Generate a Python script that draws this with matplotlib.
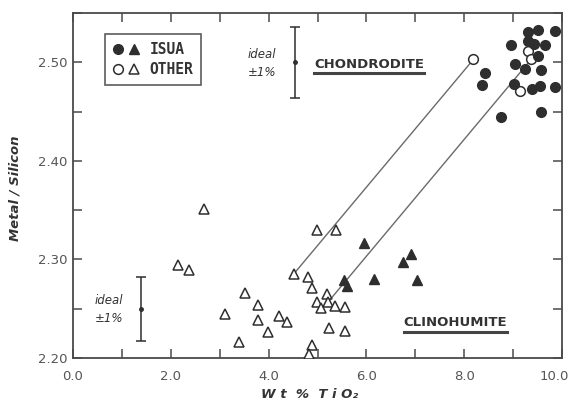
import numpy as np
import matplotlib
matplotlib.use("Agg")
import matplotlib.pyplot as plt
import matplotlib.transforms as mtransforms
from matplotlib.legend_handler import HandlerTuple
from matplotlib.lines import Line2D

# ---- data -------------------------------------------------------------
isua_circ_x = [9.30, 9.51, 9.85, 8.95, 9.31, 9.43, 9.66, 9.50, 9.04, 9.25,
               9.58, 8.43, 8.37, 9.02, 9.39, 9.54, 9.85, 8.76, 9.58]
isua_circ_y = [2.531, 2.533, 2.532, 2.518, 2.522, 2.519, 2.518, 2.506, 2.498, 2.493,
               2.492, 2.489, 2.477, 2.478, 2.473, 2.476, 2.475, 2.445, 2.450]

other_circ_x = [8.19, 9.30, 9.37, 9.14]
other_circ_y = [2.503, 2.511, 2.503, 2.471]

isua_tri_x = [5.95, 5.54, 5.60, 6.16, 6.74, 6.92, 7.03]
isua_tri_y = [2.317, 2.279, 2.273, 2.280, 2.297, 2.306, 2.279]

other_tri_x = [2.68, 2.14, 2.37, 3.52, 3.11, 3.79, 3.79, 3.99, 3.40, 4.22,
               4.37, 4.51, 4.98, 5.38, 4.81, 4.88, 5.19, 4.98, 5.07, 5.22,
               5.36, 5.56, 5.24, 5.56, 4.88, 4.83]
other_tri_y = [2.351, 2.294, 2.289, 2.266, 2.245, 2.254, 2.239, 2.226, 2.216, 2.243,
               2.237, 2.285, 2.330, 2.330, 2.282, 2.271, 2.265, 2.257, 2.251, 2.257,
               2.253, 2.252, 2.230, 2.227, 2.213, 2.204]

# tie lines joining clinohumite and chondrodite of the same sample
tie_x = [[4.51, 8.19], [5.22, 9.37]]
tie_y = [[2.285, 2.503], [2.257, 2.503]]

# ideal ratios with their +/- bars
ideal_x = [4.54, 1.40]
ideal_y = [2.50, 2.25]
ideal_err = [0.036, 0.0325]

x_ticks = np.arange(0, 11, 1)
x_labels = ["0.0", "", "2.0", "", "4.0", "", "6.0", "", "8.0", "", "10.0"]
y_ticks = [2.20, 2.25, 2.30, 2.35, 2.40, 2.45, 2.50, 2.55]
y_labels = ["2.20", "", "2.30", "", "2.40", "", "2.50", ""]

# ---- figure -----------------------------------------------------------
ink = "#2e2e2e"
axis_col = "#4a4a4a"

fig = plt.figure(figsize=(5.72, 4.09), dpi=100)
ax = fig.add_axes([73 / 572, 51 / 409, 489 / 572, 345 / 409])
ax.set_xlim(0, 10)
ax.set_ylim(2.20, 2.55)

for s in ax.spines.values():
    s.set_color(axis_col)
    s.set_linewidth(1.3)

ax.set_xticks(x_ticks)
ax.set_xticklabels(x_labels)
ax.set_yticks(y_ticks)
ax.set_yticklabels(y_labels)
ax.tick_params(direction="in", length=6.5, width=1.1, color=axis_col,
               top=True, right=True, labelsize=9.5, labelcolor="#555555")
ax.tick_params(axis="x", pad=9)
ax.tick_params(axis="y", pad=4)

# keep the last x label inside the canvas
last = ax.get_xticklabels()[-1]
last.set_transform(last.get_transform() +
                   mtransforms.ScaledTranslation(-0.08, 0, fig.dpi_scale_trans))

# tie lines
for xs, ys in zip(tie_x, tie_y):
    ax.plot(xs, ys, color="#6a6a6a", lw=1.0, zorder=2)

# points
h_oc, = ax.plot(other_circ_x, other_circ_y, "o", ms=7, mfc="white", mec=ink,
                mew=1.1, ls="none", zorder=3)
h_ot, = ax.plot(other_tri_x, other_tri_y, "^", ms=6.5, mfc="white", mec=ink,
                mew=1.1, ls="none", zorder=3)
h_ic, = ax.plot(isua_circ_x, isua_circ_y, "o", ms=7, mfc=ink, mec=ink,
                ls="none", zorder=4)
h_it, = ax.plot(isua_tri_x, isua_tri_y, "^", ms=7, mfc=ink, mec=ink,
                ls="none", zorder=4)

# ideal composition bars
ax.errorbar(ideal_x, ideal_y, yerr=ideal_err, fmt="o", ms=2.5, color=ink,
            ecolor=ink, elinewidth=1.1, capsize=3.5, capthick=1.1, zorder=3)
for xi, yi in zip(ideal_x, ideal_y):
    ax.text(xi - 0.67, yi + 0.008, "ideal", ha="center", va="center",
            style="italic", fontsize=8.5, color="#333333")
    ax.text(xi - 0.67, yi - 0.010, "\u00b11%", ha="center", va="center",
            style="italic", fontsize=8.5, color="#333333")

# mineral field labels (underlined)
labels = []
labels.append(ax.text(6.06, 2.498, "CHONDRODITE", ha="center", va="center",
                      fontsize=9.5, fontweight="bold", color="#333333"))
labels.append(ax.text(7.82, 2.236, "CLINOHUMITE", ha="center", va="center",
                      fontsize=9.5, fontweight="bold", color="#333333"))

# legend
leg = ax.legend([(h_ic, h_it), (h_oc, h_ot)], ["ISUA", "OTHER"],
                handler_map={tuple: HandlerTuple(ndivide=None, pad=0.5)},
                loc="upper left", bbox_to_anchor=(0.065, 0.94),
                borderaxespad=0, frameon=True, fancybox=False,
                edgecolor="#333333", handlelength=1.8, handletextpad=0.7,
                borderpad=0.55, labelspacing=0.35,
                prop={"family": "DejaVu Sans Mono", "weight": "bold", "size": 10.5})
leg.get_frame().set_linewidth(1.2)
for t in leg.get_texts():
    t.set_color("#333333")

# axis titles
fig.text(15 / 572, 1 - 188 / 409, "Metal / Silicon", rotation=90,
         ha="center", va="center", fontsize=9.5, fontweight="bold",
         style="italic", color="#333333")
fig.text(310 / 572, 1 - 394 / 409, "W t  %  T i O\u2082",
         ha="center", va="center", fontsize=9.5, fontweight="bold",
         style="italic", color="#333333")

# underline the field labels
fig.canvas.draw()
inv = fig.transFigure.inverted()
for t in labels:
    bb = t.get_window_extent()
    (x0, y0), (x1, _) = inv.transform([(bb.x0, bb.y0 - 2.5), (bb.x1, bb.y0)])
    fig.add_artist(Line2D([x0, x1], [y0, y0], transform=fig.transFigure,
                          color="#444444", lw=2.2))

fig.savefig("out.png", dpi=100)
